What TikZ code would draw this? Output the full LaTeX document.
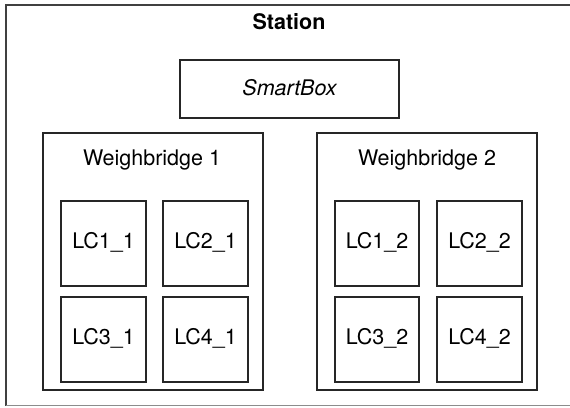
\documentclass[tikz,border=0pt]{standalone}
\usepackage{fontspec}
\setmainfont{TeX Gyre Heros}
\tikzset{
  box/.style={draw=black!85, line width=1.4pt, fill=none},
  lbl/.style={font=\fontsize{21.5}{25}\selectfont, inner sep=0pt}
}
\begin{document}
\begin{tikzpicture}[x=1pt,y=-1pt]
\useasboundingbox (0,0) rectangle (570,407);
\clip (0,0) rectangle (570,407);
% outer station (cut at right and bottom)
\draw[draw=black!75, line width=1.4pt] (6,405.5) -- (6,5) -- (580,5);
\draw[draw=black!45, line width=1pt] (6,405.5) -- (580,405.5);
\node[lbl, font=\fontsize{21.5}{25}\selectfont\bfseries] (station) at (289,22) {Station};
% SmartBox
\draw[box] (180,60) rectangle (399,118);
\node[lbl, font=\fontsize{21.5}{25}\selectfont\itshape] (smart) at (289.5,88) {SmartBox};
% Weighbridge 1
\draw[box] (43,133) rectangle (263,390);
\node[lbl] (wb1) at (152,160) {Weighbridge 1};
\draw[box] (61,201) rectangle (146,286); \node[lbl] (lc11) at (103.5,242) {LC1\_1};
\draw[box] (163,201) rectangle (248,286); \node[lbl] (lc21) at (205.5,242) {LC2\_1};
\draw[box] (61,297) rectangle (146,382); \node[lbl] (lc31) at (103.5,338) {LC3\_1};
\draw[box] (163,297) rectangle (248,382); \node[lbl] (lc41) at (205.5,338) {LC4\_1};
% Weighbridge 2
\draw[box] (317,133) rectangle (537,390);
\node[lbl] (wb2) at (427,160) {Weighbridge 2};
\draw[box] (335,201) rectangle (419,286); \node[lbl] (lc12) at (377,242) {LC1\_2};
\draw[box] (437,201) rectangle (522,286); \node[lbl] (lc22) at (479.5,242) {LC2\_2};
\draw[box] (335,297) rectangle (419,382); \node[lbl] (lc32) at (377,338) {LC3\_2};
\draw[box] (437,297) rectangle (522,382); \node[lbl] (lc42) at (479.5,338) {LC4\_2};
\end{tikzpicture}
\end{document}
